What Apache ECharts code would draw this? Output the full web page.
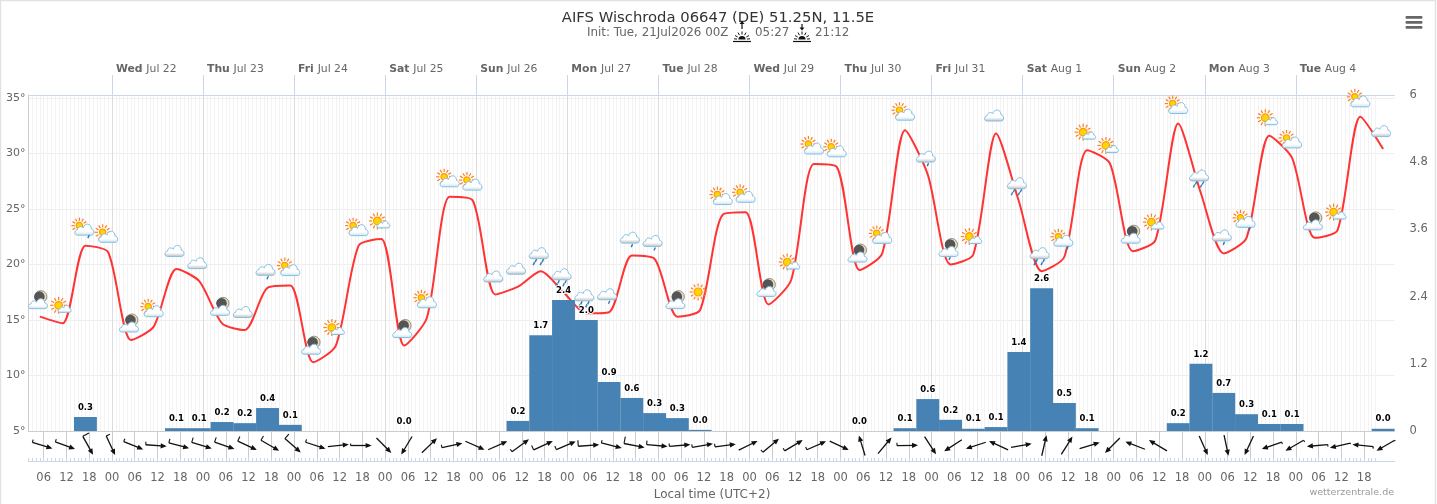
<!DOCTYPE html>
<html><head><meta charset="utf-8">
<style>html,body{margin:0;padding:0;background:#fff}#c{width:1437px;height:504px}</style>
<script src="https://cdn.jsdelivr.net/npm/echarts@6/dist/echarts.min.js"></script>
</head><body><div id="c"></div>
<script>
// hours are counted from Jul 21 00:00 local time
const startHour = 2, endHour = 362, firstPointHour = 5, stepHours = 6;
const dayNames = ['Wed','Thu','Fri','Sat','Sun','Mon','Tue','Wed','Thu','Fri','Sat','Sun','Mon','Tue'];
const dayDates = ['Jul 22','Jul 23','Jul 24','Jul 25','Jul 26','Jul 27','Jul 28','Jul 29','Jul 30','Jul 31','Aug 1','Aug 2','Aug 3','Aug 4'];
const hourLabels = ['00','06','12','18'];
const tempTicks = [5,10,15,20,25,30,35];
const temperature = [15.3,14.7,21.7,21.1,13.2,14.4,19.6,18.5,14.7,14.1,17.9,18.1,11.2,12.7,21.7,22.3,12.7,15.2,26.1,25.8,
  17.3,18.0,19.4,17.5,15.6,15.7,20.8,20.5,15.3,15.9,24.5,24.7,16.4,18.6,29.05,28.8,19.5,21.0,32.1,28.1,
  20.0,20.9,31.8,25.7,19.4,20.7,30.3,29.1,21.2,22.2,32.7,26.4,21.0,22.4,31.6,29.6,22.4,23.1,33.3,30.4];
const weather = ['moon','sunS','sunD','sunC','moon','sunC','cloud','cloud','moon','cloud','drop','sunC','moon','sunS','sunC','sunS','moon','sunC','sunC','sunC',
  'cloud','cloud','rain','rain','rain','drop','drop','drop','moon','sun','sunC','sunC','moon','sunS','sunC','sunC','moon','sunC','sunC','drop',
  'moonD','sunS','cloud','rain','rain','sunD','sunS','sunS','moon','sunS','sunC','rain','drop','sunD','sunS','sunC','moon','sunS','sunC','cloud'];
const precipHours = [17,41,47,53,59,65,71,101,131,137,143,149,155,161,167,173,179,221,233,239,245,251,257,263,269,275,281,305,311,317,323,329,335,359];
const precipValues = [0.25,0.05,0.05,0.16,0.14,0.41,0.11,0,0.18,1.71,2.34,1.98,0.875,0.59,0.32,0.23,0.02,0,0.05,0.57,0.2,0.04,0.07,1.41,2.55,0.5,0.05,0.14,1.2,0.68,0.3,0.125,0.125,0.04];
const precipLabels = ['0.3','0.1','0.1','0.2','0.2','0.4','0.1','0.0','0.2','1.7','2.4','2.0','0.9','0.6','0.3','0.3','0.0','0.0','0.1','0.6','0.2','0.1','0.1','1.4','2.6','0.5','0.1','0.2','1.2','0.7','0.3','0.1','0.1','0.0'];
// wind: bearing the arrow points to, and speed (null = calm, no arrow)
const windTo = [107,110,151,155,112,94,105,107,109,115,120,131,108,84,90,135,211,46,78,114,
  66,54,65,67,86,104,101,95,85,80,83,64,50,59,66,115,343,40,89,147,
  237,252,295,80,13,32,73,225,291,301,null,156,168,205,251,240,265,257,276,240];
const windSpeed = [3,3,7,4,3,3,4,5,5,5,5,6,3,0,2,0,0,0,3,0,
  0,3,5,4,6,3,7,4,3,3,3,0,3,3,3,0,0,0,3,0,
  0,0,0,0,0,0,0,0,0,0,0,0,0,0,2,2,2,1,2,1];

const pointHour = i => firstPointHour + stepHours * i;
const FONT = '"DejaVu Sans", sans-serif';
const tempData = temperature.map((t,i)=>[pointHour(i),t]);
const iconData = temperature.map((t,i)=>[pointHour(i),t,i]);
const windData = windTo.map((d,i)=>[pointHour(i),0.5,d,windSpeed[i]]).filter(d=>d[2]!==null);
const dayTicks = dayNames.map((_,i)=>24*(i+1));
const sixTicks = []; for(let h=6;h<=354;h+=6) sixTicks.push(h);
const hourTicks = []; for(let h=startHour;h<=357;h++) hourTicks.push(h);

const CLOUD = 'M4 14 C0 14 0 9 4 8.5 C4.5 5 9 4 11 6.5 C12.5 1 21 1 21 7.5 C25 7.5 25.5 14 21 14 Z';
function cloud(cx,cy,w,h,gray){
  return {type:'path',shape:{pathData:CLOUD,layout:'cover',x:cx-w/2,y:cy-h/2,width:w,height:h},
    style:{fill:{type:'linear',x:0,y:0,x2:0,y2:1,colorStops:[{offset:0,color:'#fff'},{offset:0.65,color:'#fff'},{offset:1,color:gray?'#b9bcbf':'#c6e0f0'}]},
    stroke:'#86bfe0',lineWidth:1}};
}
function sun(cx,cy,r,rayIn,rayOut){
  const out=[];
  for(let a=0;a<12;a++){const t=a*Math.PI/6;
    out.push({type:'line',shape:{x1:cx+rayIn*Math.cos(t),y1:cy+rayIn*Math.sin(t),x2:cx+rayOut*Math.cos(t),y2:cy+rayOut*Math.sin(t)},style:{stroke:'#ff7f1e',lineWidth:1.2}});
  }
  out.push({type:'circle',shape:{cx,cy,r},style:{fill:'#ffd400',stroke:'#ff9a10',lineWidth:1.2}});
  return out;
}
function drop(x,y){return {type:'line',shape:{x1:x+0.8,y1:y-1.5,x2:x-0.6,y2:y+1.5},style:{stroke:'#2f7ab5',lineWidth:1.4}};}
function moon(cx,cy,r){return [
  {type:'circle',shape:{cx,cy,r},style:{fill:'#eadfb8',stroke:'#777',lineWidth:0.8}},
  {type:'circle',shape:{cx:cx-1.5,cy,r:r-0.7},style:{fill:'#555'}}];}
const icons = {
  moon:()=>[...moon(3,-2,6),cloud(0,5,19,10)],
  moonD:()=>[...moon(3,-2,6),cloud(0,5,19,10),drop(1,12)],
  sunS:()=>[...sun(-2,0,3.8,5.2,8.5),cloud(4,3.5,13,7)],
  sunC:()=>[...sun(-3.5,-2,3.2,4.8,8),cloud(2,2.5,19,11)],
  sunD:()=>[...sun(-4,-2,3.2,4.8,8),cloud(1,2,19,11),drop(5,9)],
  sun:()=>sun(0,0,4,5.5,8.5),
  cloud:()=>[cloud(0,0,19,11,true)],
  drop:()=>[cloud(0,0,19,11,true),drop(2,8)],
  rain:()=>[cloud(0,0,19,11,true),drop(-3,7.5),drop(4,7.5),drop(-5,10.5),drop(2,10.5)]
};
function renderIcon(p,api){
  const c=api.coord([api.value(0),api.value(1)]);
  return {type:'group',x:c[0]-2,y:c[1]-18,children:icons[weather[api.value(2)]]()};
}
function renderWind(p,api){
  const d=api.value(2);if(d===null||isNaN(d))return null;
  const c=api.coord([api.value(0),0.5]);
  const cx=c[0]+2.5, cy=14.5+431;
  const t=d*Math.PI/180, ux=Math.sin(t), uy=-Math.cos(t), L=21;
  const tx=cx-ux*L/2, ty=cy-uy*L/2, hx=cx+ux*L/2, hy=cy+uy*L/2;
  const sp=api.value(3), ch=[];
  ch.push({type:'line',shape:{x1:tx,y1:ty,x2:hx-ux*2,y2:hy-uy*2},style:{stroke:'#111',lineWidth:1.3}});
  const px=-uy, py=ux; // perpendicular
  ch.push({type:'polygon',shape:{points:[[hx,hy],[hx-ux*6+px*2.6,hy-uy*6+py*2.6],[hx-ux*6-px*2.6,hy-uy*6-py*2.6]]},style:{fill:'#111'}});
  if(sp>0) ch.push({type:'line',shape:{x1:tx,y1:ty,x2:tx+uy*sp+ux*0,y2:ty-ux*sp},style:{stroke:'#111',lineWidth:1.1}});
  return {type:'group',children:ch};
}
function sunIcon(x,up){
  const base=41.5, cy=39.5, ch=[];
  ch.push({type:'line',shape:{x1:x-9,y1:base,x2:x+9,y2:base},style:{stroke:'#111',lineWidth:1.2}});
  ch.push({type:'sector',shape:{cx:x,cy:cy,r:3.6,startAngle:Math.PI,endAngle:2*Math.PI},style:{fill:'#111'}});
  [-150,-120,-90,-60,-30,-175,-5].forEach(a=>{const t=a*Math.PI/180;
    ch.push({type:'line',shape:{x1:x+5*Math.cos(t),y1:cy+5*Math.sin(t),x2:x+8*Math.cos(t),y2:cy+8*Math.sin(t)},style:{stroke:'#111',lineWidth:1}});});
  const a0=up?29:24,a1=up?24:29;
  ch.push({type:'line',shape:{x1:x,y1:a0,x2:x,y2:a1},style:{stroke:'#111',lineWidth:1.2}});
  ch.push({type:'polygon',shape:{points:up?[[x,a1-3],[x-2.5,a1],[x+2.5,a1]]:[[x,a1+1.5],[x-2.5,a1-1.5],[x+2.5,a1-1.5]]},style:{fill:'#111'}});
  return ch;
}
const txt=(x,y,text,font,fill,align='left')=>({type:'text',x,y,style:{text,font,fill,textAlign:align,textVerticalAlign:'middle'},silent:true});

const chart=echarts.init(document.getElementById('c'),null,{renderer:'canvas',width:1437,height:504});
const G0={left:28.5,top:95,width:1366,height:336,outerBoundsMode:'none',containLabel:false};
const G1={left:28.5,top:431,width:1366,height:30,outerBoundsMode:'none',containLabel:false};
chart.setOption({
  animation:false,backgroundColor:'#fff',
  textStyle:{fontFamily:FONT},
  grid:[G0,G1],
  xAxis:[
    {type:'value',gridIndex:0,min:startHour,max:endHour,position:'bottom',
      axisLabel:{show:false},axisTick:{show:false,customValues:hourTicks},
      axisLine:{show:true,onZero:false,lineStyle:{color:'#ccc',width:1}},
      splitLine:{show:true,lineStyle:{color:'#f3f3f3',width:1}}},
    {type:'value',gridIndex:0,min:startHour,max:endHour,position:'top',
      axisLine:{show:true,onZero:false,lineStyle:{color:'#ccd6eb',width:1}},
      axisTick:{show:true,length:20,customValues:dayTicks,lineStyle:{color:'#ccd6eb',width:1}},
      axisLabel:{show:true,customValues:dayTicks,margin:20,align:'left',padding:[0,0,0,4],hideOverlap:false,
        formatter:v=>{const i=v/24-1;return '{b|'+dayNames[i]+'} {n|'+dayDates[i]+'}';},
        rich:{b:{fontFamily:FONT,fontSize:10.8,fontWeight:'bold',color:'#666'},n:{fontFamily:FONT,fontSize:10.8,color:'#666'}}},
      splitLine:{show:true,lineStyle:{color:'#dcdcdc',width:1}}},
    {type:'value',gridIndex:1,min:startHour,max:endHour,position:'bottom',
      axisLine:{show:true,onZero:false,lineStyle:{color:'#ccd6eb',width:1}},
      axisTick:{show:false,customValues:sixTicks},
      axisLabel:{show:true,customValues:sixTicks,margin:11,fontFamily:FONT,fontSize:11.5,color:'#666',
        formatter:v=>hourLabels[(v%24)/6]},
      splitLine:{show:true,lineStyle:{color:'#ccc',width:1}}},
    {type:'value',gridIndex:1,min:startHour,max:endHour,position:'bottom',
      axisLine:{show:false,onZero:false},
      axisTick:{show:true,inside:true,length:3,customValues:hourTicks,lineStyle:{color:'#ccd6eb',width:1}},
      axisLabel:{show:false},splitLine:{show:false}}
  ],
  yAxis:[
    {type:'value',gridIndex:0,min:5,max:35.27,position:'left',
      axisLine:{show:true,onZero:false,lineStyle:{color:'#ccc',width:1}},
      axisTick:{show:false,customValues:tempTicks},
      axisLabel:{customValues:tempTicks,margin:3,fontFamily:FONT,fontSize:11,color:'#666',padding:[0,0,2,0],formatter:v=>v+'°'},
      splitLine:{show:true,lineStyle:{color:'#eee',width:1}}},
    {type:'value',gridIndex:0,min:0,max:6,interval:1.2,position:'right',
      axisLine:{show:false},axisTick:{show:false},splitLine:{show:false},
      axisLabel:{margin:15,align:'left',fontFamily:FONT,fontSize:11.5,color:'#666'},
      name:'Precipitation (mm)',nameLocation:'middle',nameRotate:-90,nameGap:39,
      nameTextStyle:{fontFamily:FONT,fontSize:11,color:'#666'}},
    {type:'value',gridIndex:1,min:0,max:1,show:false}
  ],
  series:[
    {type:'bar',xAxisIndex:0,yAxisIndex:1,z:5,barWidth:22.9,barMinHeight:0,
      data:precipHours.map((h,i)=>[h,precipValues[i]]),
      itemStyle:{color:'#4682b4'},
      label:{show:true,position:'top',distance:5,fontFamily:FONT,fontSize:8.5,fontWeight:'bold',color:'#000',
        textBorderColor:'#fff',textBorderWidth:2,formatter:p=>precipLabels[p.dataIndex]}},
    {type:'line',xAxisIndex:0,yAxisIndex:0,z:3,data:tempData,smooth:0.25,showSymbol:false,
      lineStyle:{color:'#ff3333',width:2}},
    {type:'custom',xAxisIndex:0,yAxisIndex:0,z:4,clip:false,data:iconData,encode:{x:0,y:1},renderItem:renderIcon,silent:true},
    {type:'custom',xAxisIndex:2,yAxisIndex:2,z:4,clip:false,data:windData,encode:{x:0,y:1},renderItem:renderWind,silent:true}
  ],
  graphic:{elements:[
    {type:'rect',shape:{x:0.5,y:0.5,width:1435,height:520},style:{fill:'none',stroke:'#e2e2e2',lineWidth:1.5},silent:true,z:-1},
    txt(718,18.5,'AIFS Wischroda 06647 (DE) 51.25N, 11.5E','14.8px '+FONT,'#333','center'),
    txt(587,33,'Init: Tue, 21Jul2026 00Z','11.9px '+FONT,'#666'),
    ...sunIcon(742,true),
    txt(755,33,'05:27','11.9px '+FONT,'#666'),
    ...sunIcon(802,false),
    txt(815,33,'21:12','11.9px '+FONT,'#666'),
    {type:'rect',shape:{x:1405.5,y:16,width:17,height:2.8,r:1.2},style:{fill:'#666'}},
    {type:'rect',shape:{x:1405.5,y:21,width:17,height:2.8,r:1.2},style:{fill:'#666'}},
    {type:'rect',shape:{x:1405.5,y:26,width:17,height:2.8,r:1.2},style:{fill:'#666'}},
    txt(712,495,'Local time (UTC+2)','12px '+FONT,'#666','center'),
    txt(1394,492.5,'wetterzentrale.de','9.5px '+FONT,'#999','right')
  ]}
});
</script></body></html>
